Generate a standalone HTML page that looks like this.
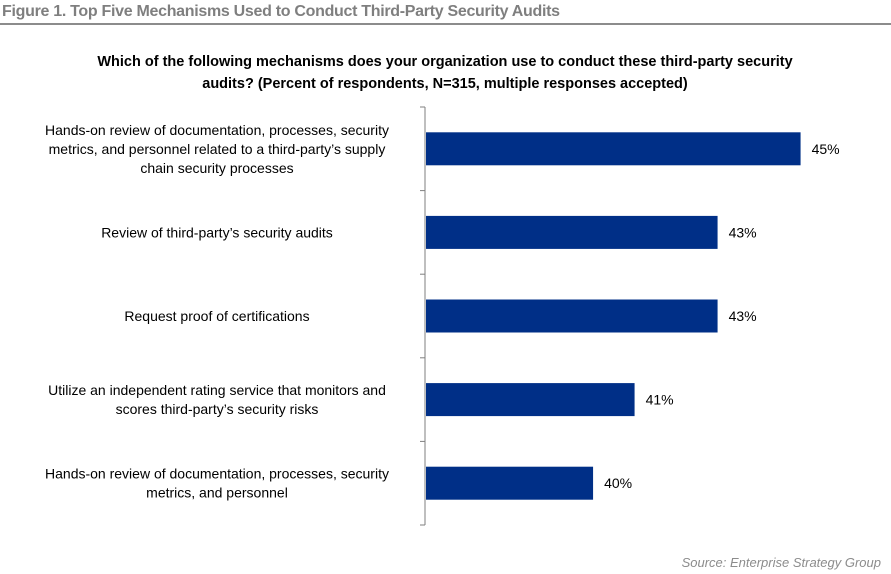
<!DOCTYPE html>
<html><head><meta charset="utf-8"><style>
body{margin:0;width:891px;height:574px;background:#fff;font-family:"Liberation Sans",sans-serif;overflow:hidden;position:relative}
#fig{position:absolute;left:2px;top:3px;font-size:16px;font-weight:bold;color:#7f7f7f;white-space:nowrap;letter-spacing:-0.3px}
#rule{position:absolute;left:0;top:23px;width:891px;height:2px;background:#8c8c8c}
#q{position:absolute;left:95px;width:700px;top:51px;text-align:center;font-size:14.5px;font-weight:bold;line-height:22px;color:#000}
#src{position:absolute;right:10px;top:555px;font-size:13px;font-style:italic;color:#8c8c8c}
svg{position:absolute;left:0;top:0}
</style></head><body>
<div id="fig">Figure 1. Top Five Mechanisms Used to Conduct Third-Party Security Audits</div>
<div id="rule"></div>
<div id="q">Which of the following mechanisms does your organization use to conduct these third-party security audits? (Percent of respondents, N=315, multiple responses accepted)</div>
<svg id="chart" width="891" height="574"></svg>
<div id="src">Source: Enterprise Strategy Group</div>
<script>
const categories=[
["Hands-on review of documentation, processes, security","metrics, and personnel related to a third-party’s supply","chain security processes"],
["Review of third-party’s security audits"],
["Request proof of certifications"],
["Utilize an independent rating service that monitors and","scores third-party’s security risks"],
["Hands-on review of documentation, processes, security","metrics, and personnel"]];
const values=[45,43,43,41,40];
const valueLabels=["45%","43%","43%","41%","40%"];
const NS="http://www.w3.org/2000/svg";
const svgEl=document.getElementById('chart');
const x0=425, pxPer=41.5, xMin=35.95;
const yTop=107, yBottom=525;
const band=(yBottom-yTop)/values.length;
function xs(v){return x0+(v-xMin)*pxPer;}
function yc(i){return yTop+band*(i+0.5);}
function mk(t,a){const e=document.createElementNS(NS,t);for(const k in a)e.setAttribute(k,a[k]);svgEl.appendChild(e);return e;}
const ax=mk('line',{x1:x0,y1:yTop,x2:x0,y2:yBottom,stroke:'#7f7f7f','stroke-width':1});


for(let i=0;i<=values.length;i++){
 const y=yTop+band*i;
 const t=mk('line',{x1:x0-5,y1:y,x2:x0,y2:y,stroke:'#7f7f7f','stroke-width':1});
 
 
}
values.forEach((v,i)=>{
 const c=yc(i);
 const r=mk('rect',{x:x0+1,y:c-16.5,width:xs(v)-x0-1,height:33,fill:'#002f87'});
 
 
 const l=mk('text',{x:xs(v)+11,y:c+5,'font-size':14,fill:'#000'});
 l.textContent=valueLabels[i];
 
 
 const lines=categories[i];
 const lh=19;
 lines.forEach((s,j)=>{
  const t=mk('text',{x:217,y:c+5+(j-(lines.length-1)/2)*lh,'font-size':14,'text-anchor':'middle',fill:'#000'});
  t.textContent=s;
  
  
 });
});
</script>
</body></html>
